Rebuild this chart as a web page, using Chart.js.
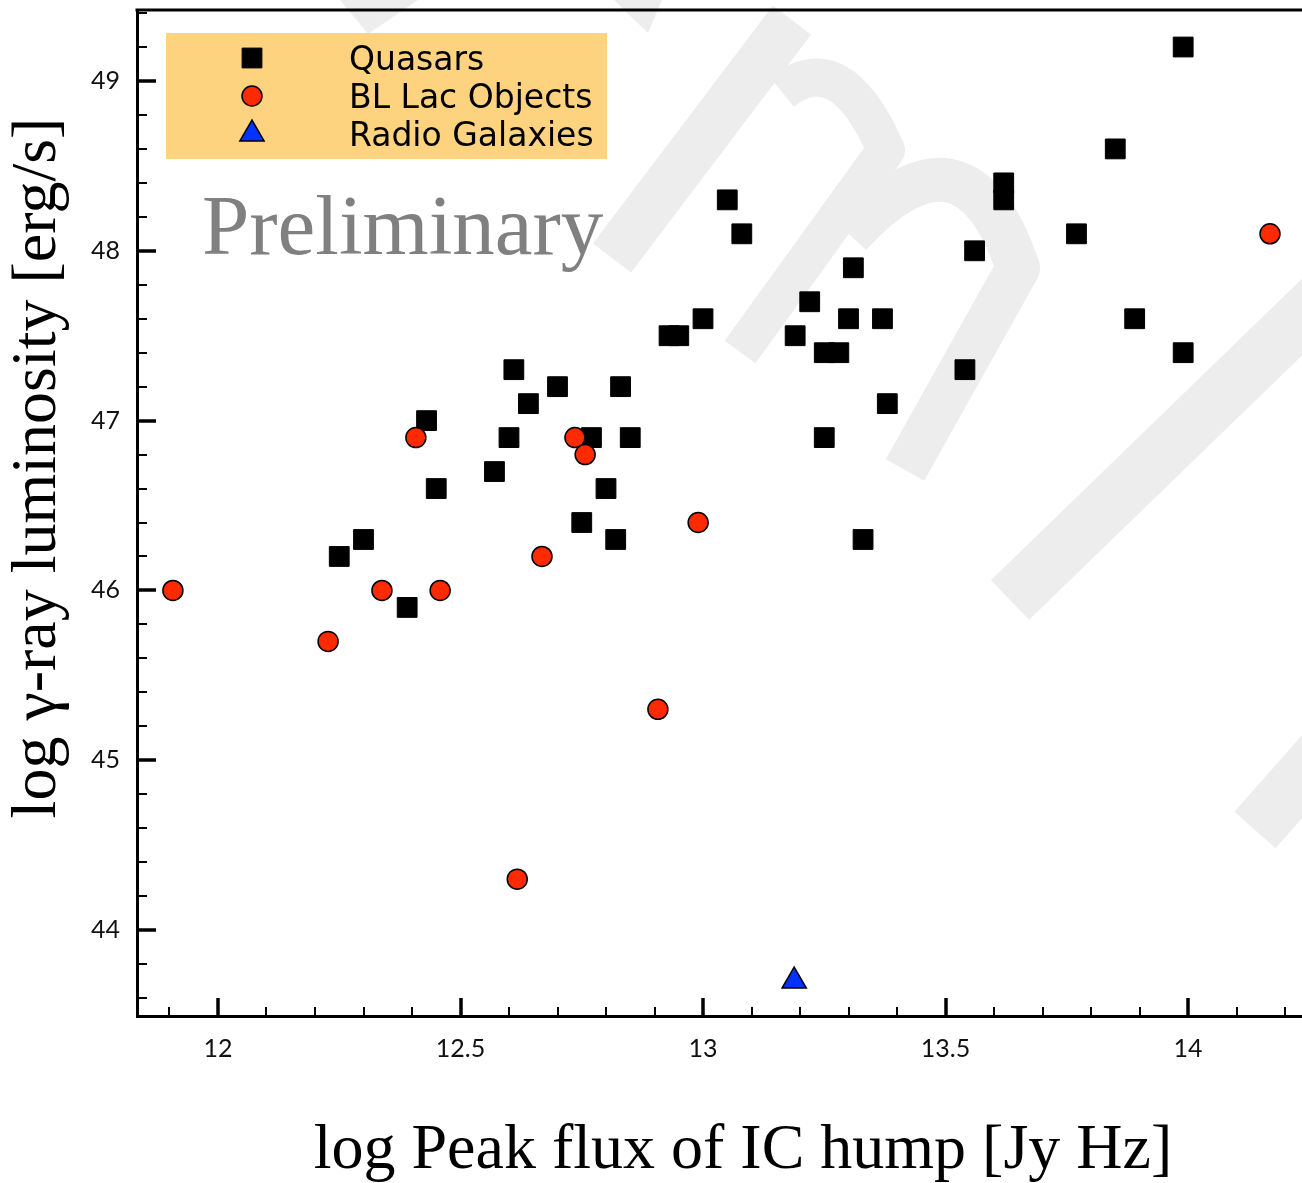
<!DOCTYPE html>
<html>
<head>
<meta charset="utf-8">
<script src="https://cdn.jsdelivr.net/npm/chart.js@4.4.1/dist/chart.umd.min.js"></script>
<style>
  html, body { margin: 0; padding: 0; background: #ffffff; }
  #wrap { width: 1302px; height: 1183px; position: relative; }
</style>
</head>
<body>
<div id="wrap"><canvas id="c"></canvas></div>
<script>
// ---- data ----
const quasarX = [13.99, 13.85, 13.62, 13.62, 13.56, 13.77, 13.89, 13.99, 13.54, 13.05, 13.08, 13.31, 13.22, 13.30, 13.37, 13.19, 13.25, 13.28, 13.38, 13.25, 13.33, 12.93, 12.95, 13.00, 12.61, 12.70, 12.83, 12.64, 12.43, 12.60, 12.77, 12.85, 12.57, 12.45, 12.80, 12.75, 12.82, 12.30, 12.25, 12.39];
const quasarY = [49.2, 48.6, 48.4, 48.3, 48.0, 48.1, 47.6, 47.4, 47.3, 48.3, 48.1, 47.9, 47.7, 47.6, 47.6, 47.5, 47.4, 47.4, 47.1, 46.9, 46.3, 47.5, 47.5, 47.6, 47.3, 47.2, 47.2, 47.1, 47.0, 46.9, 46.9, 46.9, 46.7, 46.6, 46.6, 46.4, 46.3, 46.3, 46.2, 45.9];
const blLacX = [11.907, 12.227, 12.338, 12.458, 12.408, 12.668, 12.736, 12.757, 12.99, 12.907, 12.617, 14.169];
const blLacY = [46.0, 45.7, 46.0, 46.0, 46.9, 46.2, 46.9, 46.8, 46.4, 45.3, 44.3, 48.1];
const radioX = [13.188];
const radioY = [43.7];
const seriesNames = ['Quasars', 'BL Lac Objects', 'Radio Galaxies'];
const xTickValues = [12, 12.5, 13, 13.5, 14];
const yTickValues = [44, 45, 46, 47, 48, 49];
const xTitle = 'log Peak flux of IC hump [Jy Hz]';
const yTitle = 'log \u03B3-ray luminosity [erg/s]';
const watermarkText = 'Preliminary';

const toPoints = (xs, ys) => xs.map((x, i) => ({ x: x, y: ys[i] }));

// ---- faint background logo (decoration only) ----
const logoPlugin = {
  id: 'logo',
  beforeDatasetsDraw(chart) {
    const ctx = chart.ctx;
    const ca = chart.chartArea;
    ctx.save();
    ctx.beginPath();
    ctx.rect(ca.left, 0, chart.width - ca.left, ca.bottom);
    ctx.clip();
    ctx.strokeStyle = '#ededed';
    ctx.fillStyle = '#ededed';
    ctx.lineCap = 'butt';
    ctx.lineJoin = 'round';
    // slanted bar
    ctx.lineWidth = 48;
    ctx.beginPath(); ctx.moveTo(792, 20); ctx.lineTo(612, 258); ctx.stroke();
    // first hump and its descending leg
    ctx.lineWidth = 38;
    ctx.beginPath(); ctx.moveTo(782, 92); ctx.quadraticCurveTo(840, 45, 886, 150); ctx.lineTo(740, 352); ctx.stroke();
    // second hump and leg
    ctx.lineWidth = 44;
    ctx.beginPath(); ctx.moveTo(850, 235); ctx.quadraticCurveTo(965, 110, 1018, 268); ctx.lineTo(905, 470); ctx.stroke();
    // right bar
    ctx.lineWidth = 55;
    ctx.beginPath(); ctx.moveTo(1330, 290); ctx.lineTo(1010, 600); ctx.stroke();
    ctx.beginPath(); ctx.moveTo(1330, 745); ctx.lineTo(1255, 830); ctx.stroke();
    // top wedges
    ctx.beginPath(); ctx.moveTo(340, 0); ctx.lineTo(418, 0); ctx.lineTo(368, 34); ctx.closePath(); ctx.fill();
    ctx.beginPath(); ctx.moveTo(614, 0); ctx.lineTo(662, 0); ctx.lineTo(648, 33); ctx.closePath(); ctx.fill();
    ctx.restore();
  }
};

// ---- decorations: inward ticks, top frame, legend box, titles ----
const decoPlugin = {
  id: 'deco',
  afterDraw(chart) {
    const ctx = chart.ctx;
    const ca = chart.chartArea;
    const xs = chart.scales.x, ys = chart.scales.y;
    ctx.save();
    ctx.strokeStyle = '#000';
    // top frame line
    ctx.lineWidth = 3;
    ctx.beginPath();
    ctx.moveTo(ca.left - 1.5, ca.top);
    ctx.lineTo(ca.right, ca.top);
    ctx.stroke();
    // x minor ticks
    ctx.lineWidth = 2;
    for (let k = 119; k <= 142; k++) {
      const px = Math.round(xs.getPixelForValue(k / 10));
      ctx.beginPath();
      ctx.moveTo(px, ca.bottom);
      ctx.lineTo(px, ca.bottom - 9);
      ctx.stroke();
    }
    // y minor ticks
    for (let k = 218; k <= 247; k++) {
      const py = Math.round(ys.getPixelForValue(k / 5));
      ctx.beginPath();
      ctx.moveTo(ca.left, py);
      ctx.lineTo(ca.left + 10, py);
      ctx.stroke();
    }
    // major ticks
    ctx.lineWidth = 3.5;
    xTickValues.forEach(v => {
      const px = Math.round(xs.getPixelForValue(v));
      ctx.beginPath();
      ctx.moveTo(px, ca.bottom);
      ctx.lineTo(px, ca.bottom - 18);
      ctx.stroke();
    });
    yTickValues.forEach(v => {
      const py = Math.round(ys.getPixelForValue(v));
      ctx.beginPath();
      ctx.moveTo(ca.left, py);
      ctx.lineTo(ca.left + 19, py);
      ctx.stroke();
    });

    // "Preliminary"
    ctx.fillStyle = '#808080';
    ctx.font = '85px "Liberation Serif", "Times New Roman", serif';
    ctx.textAlign = 'left';
    ctx.textBaseline = 'alphabetic';
    ctx.fillText(watermarkText, ca.left + 65, ca.top + 244);

    // legend box
    const lx = ca.left + 29, ly = ca.top + 23, lw = 441, lh = 126;
    ctx.fillStyle = '#fdd37f';
    ctx.fillRect(lx, ly, lw, lh);
    const rows = [ly + 25, ly + 63, ly + 101];
    chart.data.datasets.forEach((ds, i) => {
      ctx.fillStyle = ds.backgroundColor;
      ctx.strokeStyle = ds.borderColor;
      ctx.lineWidth = ds.borderWidth;
      Chart.helpers.drawPoint(ctx, {
        pointStyle: ds.pointStyle,
        radius: ds.pointRadius,
        borderWidth: ds.borderWidth,
        rotation: 0
      }, lx + 86, rows[i]);
      ctx.fillStyle = '#000';
      ctx.font = '33px "DejaVu Sans", sans-serif';
      ctx.textAlign = 'left';
      ctx.textBaseline = 'alphabetic';
      ctx.fillText(ds.label, lx + 183, rows[i] + 12);
    });

    // axis titles
    ctx.fillStyle = '#000';
    ctx.font = '64px "Liberation Serif", "Times New Roman", serif';
    ctx.textAlign = 'center';
    ctx.textBaseline = 'alphabetic';
    ctx.fillText(xTitle, 743, ca.bottom + 152);
    ctx.save();
    ctx.translate(55, 468);
    ctx.rotate(-Math.PI / 2);
    ctx.fillText(yTitle, 0, 0);
    ctx.restore();
    ctx.restore();
  }
};

const ctxEl = document.getElementById('c');
new Chart(ctxEl, {
  type: 'scatter',
  data: {
    datasets: [
      {
        label: seriesNames[0],
        data: toPoints(quasarX, quasarY),
        pointStyle: 'rect',
        pointRadius: 14,
        pointHoverRadius: 14,
        backgroundColor: '#000000',
        borderColor: '#000000',
        borderWidth: 1,
        order: 3
      },
      {
        label: seriesNames[1],
        data: toPoints(blLacX, blLacY),
        pointStyle: 'circle',
        pointRadius: 10,
        pointHoverRadius: 10,
        backgroundColor: '#ff2a00',
        borderColor: '#000000',
        borderWidth: 1.5,
        order: 2
      },
      {
        label: seriesNames[2],
        data: toPoints(radioX, radioY),
        pointStyle: 'triangle',
        pointRadius: 14,
        pointHoverRadius: 14,
        backgroundColor: '#0033ff',
        borderColor: '#000000',
        borderWidth: 1.5,
        order: 1
      }
    ]
  },
  options: {
    responsive: true,
    maintainAspectRatio: false,
    animation: false,
    layout: { autoPadding: false, padding: { top: 10, right: 0, left: 0, bottom: 0 } },
    plugins: {
      legend: { display: false },
      tooltip: { enabled: false },
      title: { display: false }
    },
    scales: {
      x: {
        type: 'linear',
        min: 11.833,
        max: 14.235,
        afterFit: s => { s.height = 167; s.paddingLeft = 0; s.paddingRight = 0; s.paddingTop = 0; s.paddingBottom = 0; },
        afterBuildTicks: s => { s.ticks = xTickValues.map(v => ({ value: v })); },
        grid: { display: false, drawTicks: false },
        border: { display: true, color: '#000', width: 3 },
        ticks: {
          padding: 18,
          color: '#111',
          font: { family: 'Lato, "Open Sans", sans-serif', size: 25 },
          maxRotation: 0,
          callback: v => String(v)
        }
      },
      y: {
        type: 'linear',
        min: 43.494,
        max: 49.418,
        afterFit: s => { s.width = 137; s.paddingLeft = 0; s.paddingRight = 0; s.paddingTop = 0; s.paddingBottom = 0; },
        afterBuildTicks: s => { s.ticks = yTickValues.map(v => ({ value: v })); },
        grid: { display: false, drawTicks: false },
        border: { display: true, color: '#000', width: 3 },
        ticks: {
          padding: 17,
          color: '#111',
          font: { family: 'Lato, "Open Sans", sans-serif', size: 25 },
          callback: v => String(v)
        }
      }
    }
  },
  plugins: [logoPlugin, decoPlugin]
});
</script>
</body>
</html>
